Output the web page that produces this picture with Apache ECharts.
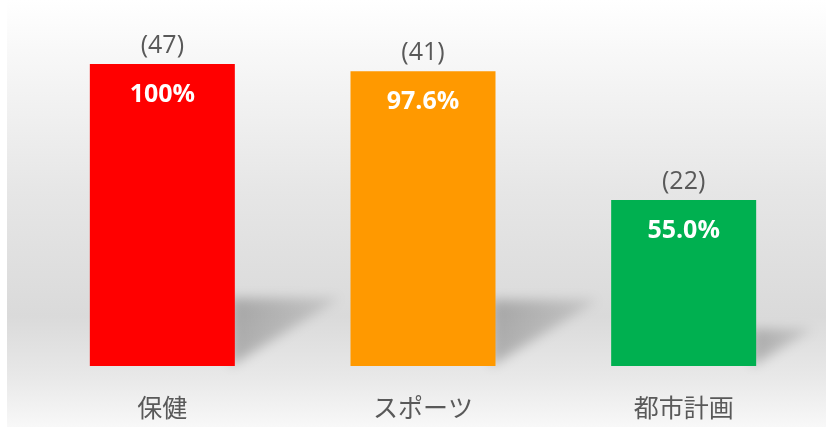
<!DOCTYPE html>
<html>
<head>
<meta charset="utf-8">
<script src="https://cdn.jsdelivr.net/npm/echarts@6/dist/echarts.min.js"></script>
<style>html,body{margin:0;padding:0;background:#fff}#c{width:826px;height:427px}</style>
</head>
<body>
<div id="c"></div>
<script>
var categories = ['保健', 'スポーツ', '都市計画'];
var percentValues = [100, 97.6, 55.0];
var percentLabels = ['100%', '97.6%', '55.0%'];
var counts = [47, 41, 22];
var barColors = ['#ff0000', '#ff9900', '#00b050'];

var chart = echarts.init(document.getElementById('c'), null, {renderer: 'canvas'});
var BAR_W = 145;

var option = {
  animation: false,
  backgroundColor: '#ffffff',
  graphic: [{
    type: 'rect', z: -10, silent: true,
    shape: {x: 7, y: 0, width: 819, height: 427},
    style: {
      fill: new echarts.graphic.LinearGradient(0, 0, 0, 1, [
        {offset: 0, color: '#ffffff'},
        {offset: 0.12, color: '#f8f8f8'},
        {offset: 0.45, color: '#e6e6e6'},
        {offset: 0.74, color: '#dadada'},
        {offset: 0.88, color: '#e8e8e8'},
        {offset: 1, color: '#f8f8f8'}
      ])
    }
  }],
  grid: {left: 32, right: 12, top: 64, bottom: 61},
  xAxis: {
    type: 'category',
    data: categories,
    axisLine: {show: false},
    axisTick: {show: false},
    axisLabel: {
      color: '#595959', fontSize: 25, margin: 29,
      fontFamily: '"Noto Sans CJK JP", sans-serif'
    }
  },
  yAxis: {
    type: 'value', min: 0, max: 100,
    show: false, splitLine: {show: false}
  },
  series: [
    {
      type: 'custom',
      z: 1,
      silent: true,
      data: percentValues.map(function (v, i) { return [i, v]; }),
      renderItem: function (params, api) {
        var top = api.coord([api.value(0), api.value(1)]);
        var base = api.coord([api.value(0), 0]);
        var h = base[1] - top[1];
        var xR = base[0] + BAR_W / 2;
        var yT = base[1] - 0.225 * h;
        var xE = xR + 0.35 * h;
        var OFF = 3000;
        return {
          type: 'polygon',
          shape: {points: [[xR - 4 - OFF, yT], [xE - OFF, yT], [xR - 4 - OFF, base[1]]]},
          style: {
            fill: new echarts.graphic.LinearGradient(0, 0, 1, 0, [
              {offset: 0, color: 'rgba(0,0,0,1)'},
              {offset: 1, color: 'rgba(0,0,0,0.4)'}
            ]),
            shadowColor: 'rgba(0,0,0,0.24)',
            shadowBlur: 12,
            shadowOffsetX: OFF,
            shadowOffsetY: 0
          }
        };
      }
    },
    {
      type: 'bar',
      z: 3,
      barWidth: BAR_W,
      data: percentValues.map(function (v, i) {
        return {value: v, itemStyle: {color: barColors[i]}};
      }),
      label: {
        show: true,
        position: 'insideTop',
        distance: 18,
        color: '#ffffff',
        fontSize: 25,
        fontWeight: 'bold',
        fontFamily: '"Open Sans", "Noto Sans", sans-serif',
        formatter: function (p) { return percentLabels[p.dataIndex]; }
      }
    },
    {
      type: 'bar',
      z: 4,
      barWidth: BAR_W,
      barGap: '-100%',
      silent: true,
      data: percentValues,
      itemStyle: {color: 'rgba(0,0,0,0)'},
      label: {
        show: true,
        position: 'top',
        distance: 6,
        color: '#595959',
        fontSize: 25,
        fontFamily: '"Open Sans", "Noto Sans", sans-serif',
        formatter: function (p) { return '(' + counts[p.dataIndex] + ')'; }
      }
    }
  ]
};
chart.setOption(option);
</script>
</body>
</html>
